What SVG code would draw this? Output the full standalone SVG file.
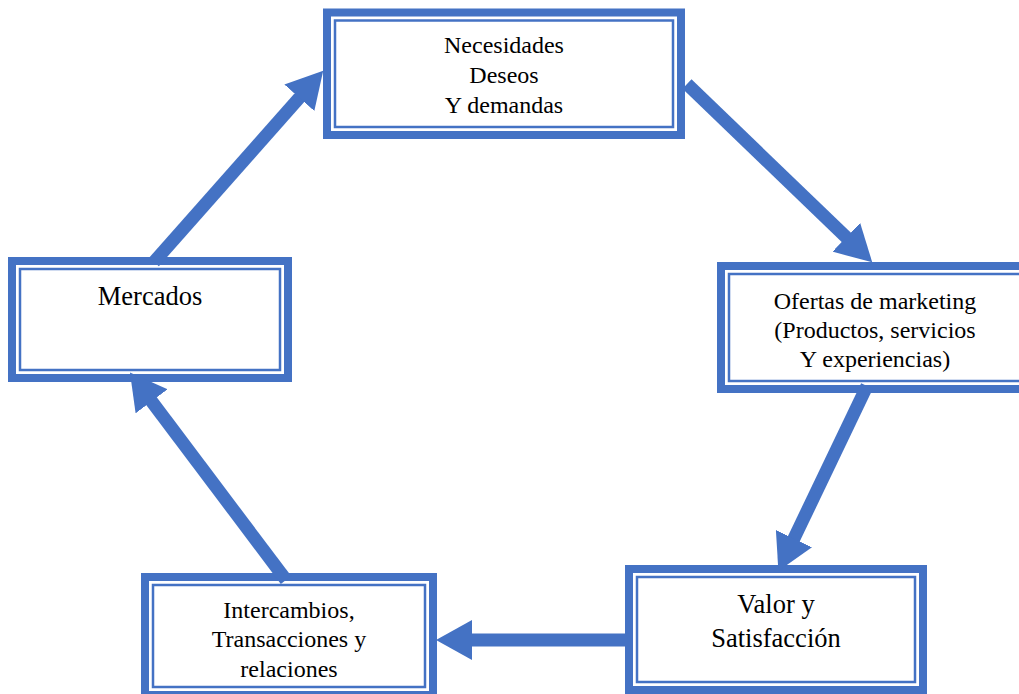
<svg xmlns="http://www.w3.org/2000/svg" width="1019" height="694" viewBox="0 0 1019 694">
  <style>
    .frame { fill: #ffffff; stroke: #4472C4; stroke-width: 8; }
    .rule { fill: none; stroke: #4472C4; stroke-width: 2.5; }
    .label { font-family: "Liberation Serif", "Times New Roman", serif; fill: #000000; text-anchor: middle; }
    .s24 { font-size: 24px; }
    .s26 { font-size: 26.5px; }
    .link { stroke: #4472C4; stroke-width: 13; fill: none; marker-end: url(#head); }
  </style>
  <defs>
    <marker id="head" viewBox="0 0 36 40" markerWidth="36" markerHeight="40" refX="1" refY="20" orient="auto" markerUnits="userSpaceOnUse">
      <path d="M0,0 L36,20 L0,40 Z" fill="#4472C4"/>
    </marker>
  </defs>
  <rect width="1019" height="694" fill="#ffffff"/>

  <g id="node-necesidades">
    <rect class="frame" x="327" y="12.5" width="354" height="122.5"/>
    <rect class="rule" x="335" y="20.5" width="338" height="106.5"/>
    <text class="label s24" x="504" y="53">Necesidades</text>
    <text class="label s24" x="504" y="83">Deseos</text>
    <text class="label s24" x="504" y="113">Y demandas</text>
  </g>

  <g id="node-ofertas">
    <rect class="frame" x="721" y="266" width="308" height="123"/>
    <rect class="rule" x="729" y="274" width="292" height="107"/>
    <text class="label s24" x="875" y="309">Ofertas de marketing</text>
    <text class="label s24" x="875" y="338">(Productos, servicios</text>
    <text class="label s24" x="875" y="367">Y experiencias)</text>
  </g>

  <g id="node-mercados">
    <rect class="frame" x="12" y="261" width="276" height="117"/>
    <rect class="rule" x="20" y="269" width="260" height="101"/>
    <text class="label s26" x="150" y="305">Mercados</text>
  </g>

  <g id="node-intercambios">
    <rect class="frame" x="145" y="577" width="288" height="118"/>
    <rect class="rule" x="153" y="585" width="272" height="102"/>
    <text class="label s24" x="289" y="618">Intercambios,</text>
    <text class="label s24" x="289" y="647">Transacciones y</text>
    <text class="label s24" x="289" y="677">relaciones</text>
  </g>

  <g id="node-valor">
    <rect class="frame" x="629" y="569" width="294" height="121"/>
    <rect class="rule" x="637" y="577" width="278" height="105"/>
    <text class="label s26" x="776" y="613">Valor y</text>
    <text class="label s26" x="776" y="647">Satisfacción</text>
  </g>

  <g id="connectors">
    <line class="link" x1="154" y1="262" x2="300" y2="97"/>
    <line class="link" x1="687" y1="84" x2="847" y2="238"/>
    <line class="link" x1="867" y1="386" x2="793.5" y2="539.5"/>
    <line class="link" x1="625" y1="640" x2="471" y2="640"/>
    <line class="link" x1="286" y1="580" x2="151" y2="400.5"/>
  </g>
</svg>
